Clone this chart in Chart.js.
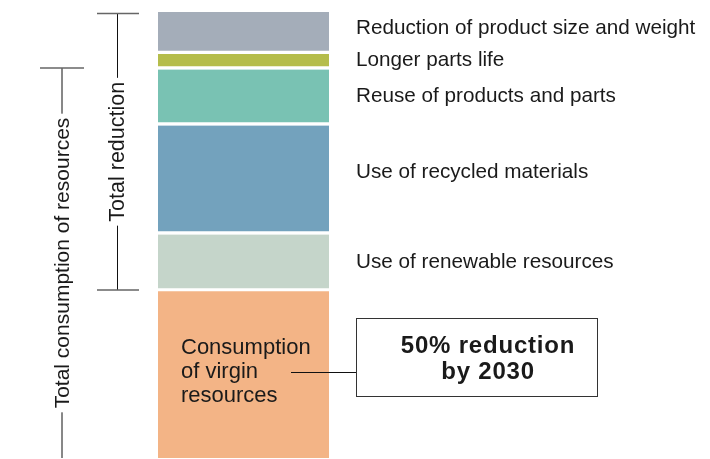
<!DOCTYPE html>
<html>
<head>
<meta charset="utf-8">
<script src="https://cdn.jsdelivr.net/npm/chart.js@4.4.1/dist/chart.umd.min.js"></script>
<style>
  body { margin: 0; background: #fff; }
  canvas { display: block; }
</style>
</head>
<body>
<canvas id="resourceChart" width="710" height="459"></canvas>
<script>
// segments listed top to bottom, as in the picture
const categories = [
    'Reduction of product size and weight',
    'Longer parts life',
    'Reuse of products and parts',
    'Use of recycled materials',
    'Use of renewable resources',
    'Consumption of virgin resources'
];
const values = [42, 15.5, 56, 109, 57, 166.5];
const colors = ['#a4adb9', '#b5bd4b', '#79c2b3', '#73a2bd', '#c5d5ca', '#f3b486'];
const virginLines = ['Consumption', 'of virgin', 'resources'];
const targetLines = ['50% reduction', 'by 2030'];
const bracketLabels = ['Total reduction', 'Total consumption of resources'];

const total = values.reduce((a, b) => a + b, 0);
const font = 'Liberation Sans, Arial, Helvetica, sans-serif';
const textColor = '#1a1a1a';

// small vertical nudges so the side labels sit where the original has them
const labelNudge = [-5, -1, -1, -8, -1];

function segmentBounds(i) {
    // value range of segment i (0 = top)
    let below = 0;
    for (let k = i + 1; k < values.length; k++) below += values[k];
    return [below, below + values[i]];
}

const annotations = {
    id: 'annotations',
    afterDatasetsDraw(chart) {
        const ctx = chart.ctx;
        const y = chart.scales.y;
        const area = chart.chartArea;
        ctx.save();

        // side labels
        ctx.fillStyle = textColor;
        ctx.font = '20.7px ' + font;
        ctx.textAlign = 'left';
        ctx.textBaseline = 'middle';
        for (let i = 0; i < categories.length - 1; i++) {
            const [lo, hi] = segmentBounds(i);
            const mid = (y.getPixelForValue(lo) + y.getPixelForValue(hi)) / 2;
            ctx.fillText(categories[i], 356, mid + labelNudge[i]);
        }

        // text inside the virgin resources block
        ctx.font = '22px ' + font;
        ctx.textBaseline = 'alphabetic';
        virginLines.forEach((t, i) => ctx.fillText(t, 181, 354 + i * 24));

        // connector and target box
        ctx.strokeStyle = '#111';
        ctx.lineWidth = 1;
        ctx.beginPath();
        ctx.moveTo(291, 372.5);
        ctx.lineTo(356, 372.5);
        ctx.stroke();
        ctx.strokeStyle = '#333';
        ctx.strokeRect(356.5, 318.5, 241, 78);

        ctx.font = 'bold 24px ' + font;
        ctx.letterSpacing = '0.8px';
        ctx.textAlign = 'center';
        ctx.fillText(targetLines[0], 488, 353);
        ctx.fillText(targetLines[1], 488, 379);
        ctx.letterSpacing = '0px';

        // brackets
        const redTop = y.getPixelForValue(total) + 1.5;
        const redBot = y.getPixelForValue(values[values.length - 1]) - 1.5;
        const conTop = y.getPixelForValue(segmentBounds(2)[1]) - 1.5;
        const conBot = area.bottom;

        function bracket(x, top, bottom, capL, capR, label, capBottom, size) {
            ctx.font = size + 'px ' + font;
            const w = ctx.measureText(label).width;
            const mid = (top + bottom) / 2;
            ctx.strokeStyle = '#111';
            ctx.lineWidth = 1;
            ctx.beginPath();
            ctx.moveTo(x, top);
            ctx.lineTo(x, mid - w / 2 - 4);
            ctx.moveTo(x, mid + w / 2 + 4);
            ctx.lineTo(x, bottom);
            ctx.stroke();
            ctx.strokeStyle = '#666';
            ctx.lineWidth = 1.6;
            ctx.beginPath();
            ctx.moveTo(capL, top);
            ctx.lineTo(capR, top);
            if (capBottom) {
                ctx.moveTo(capL, bottom);
                ctx.lineTo(capR, bottom);
            }
            ctx.stroke();
            ctx.save();
            ctx.translate(x, mid);
            ctx.rotate(-Math.PI / 2);
            ctx.fillStyle = textColor;
            ctx.textAlign = 'center';
            ctx.textBaseline = 'middle';
            ctx.fillText(label, 0, 1);
            ctx.restore();
        }
        bracket(117.5, redTop, redBot, 97, 139, bracketLabels[0], true, 21.5);
        bracket(62, conTop, conBot, 40, 84, bracketLabels[1], false, 21);

        ctx.restore();
    }
};

const stackOrder = values.map((v, i) => i).reverse(); // bottom segment first

new Chart(document.getElementById('resourceChart'), {
    type: 'bar',
    data: {
        labels: [''],
        datasets: stackOrder.map(i => ({
            label: categories[i],
            data: [values[i]],
            backgroundColor: colors[i],
            borderColor: '#ffffff',
            borderWidth: { top: 0, left: 0, right: 0, bottom: i === values.length - 1 ? 0 : 3.5 },
            borderSkipped: false,
            barPercentage: 1,
            categoryPercentage: 1
        }))
    },
    options: {
        responsive: false,
        animation: false,
        layout: { padding: { left: 158, right: 381, top: 12, bottom: 1 } },
        scales: {
            x: { stacked: true, display: false },
            y: { stacked: true, display: false, min: 0, max: total }
        },
        plugins: {
            legend: { display: false },
            tooltip: { enabled: false }
        }
    },
    plugins: [annotations]
});
</script>
</body>
</html>
